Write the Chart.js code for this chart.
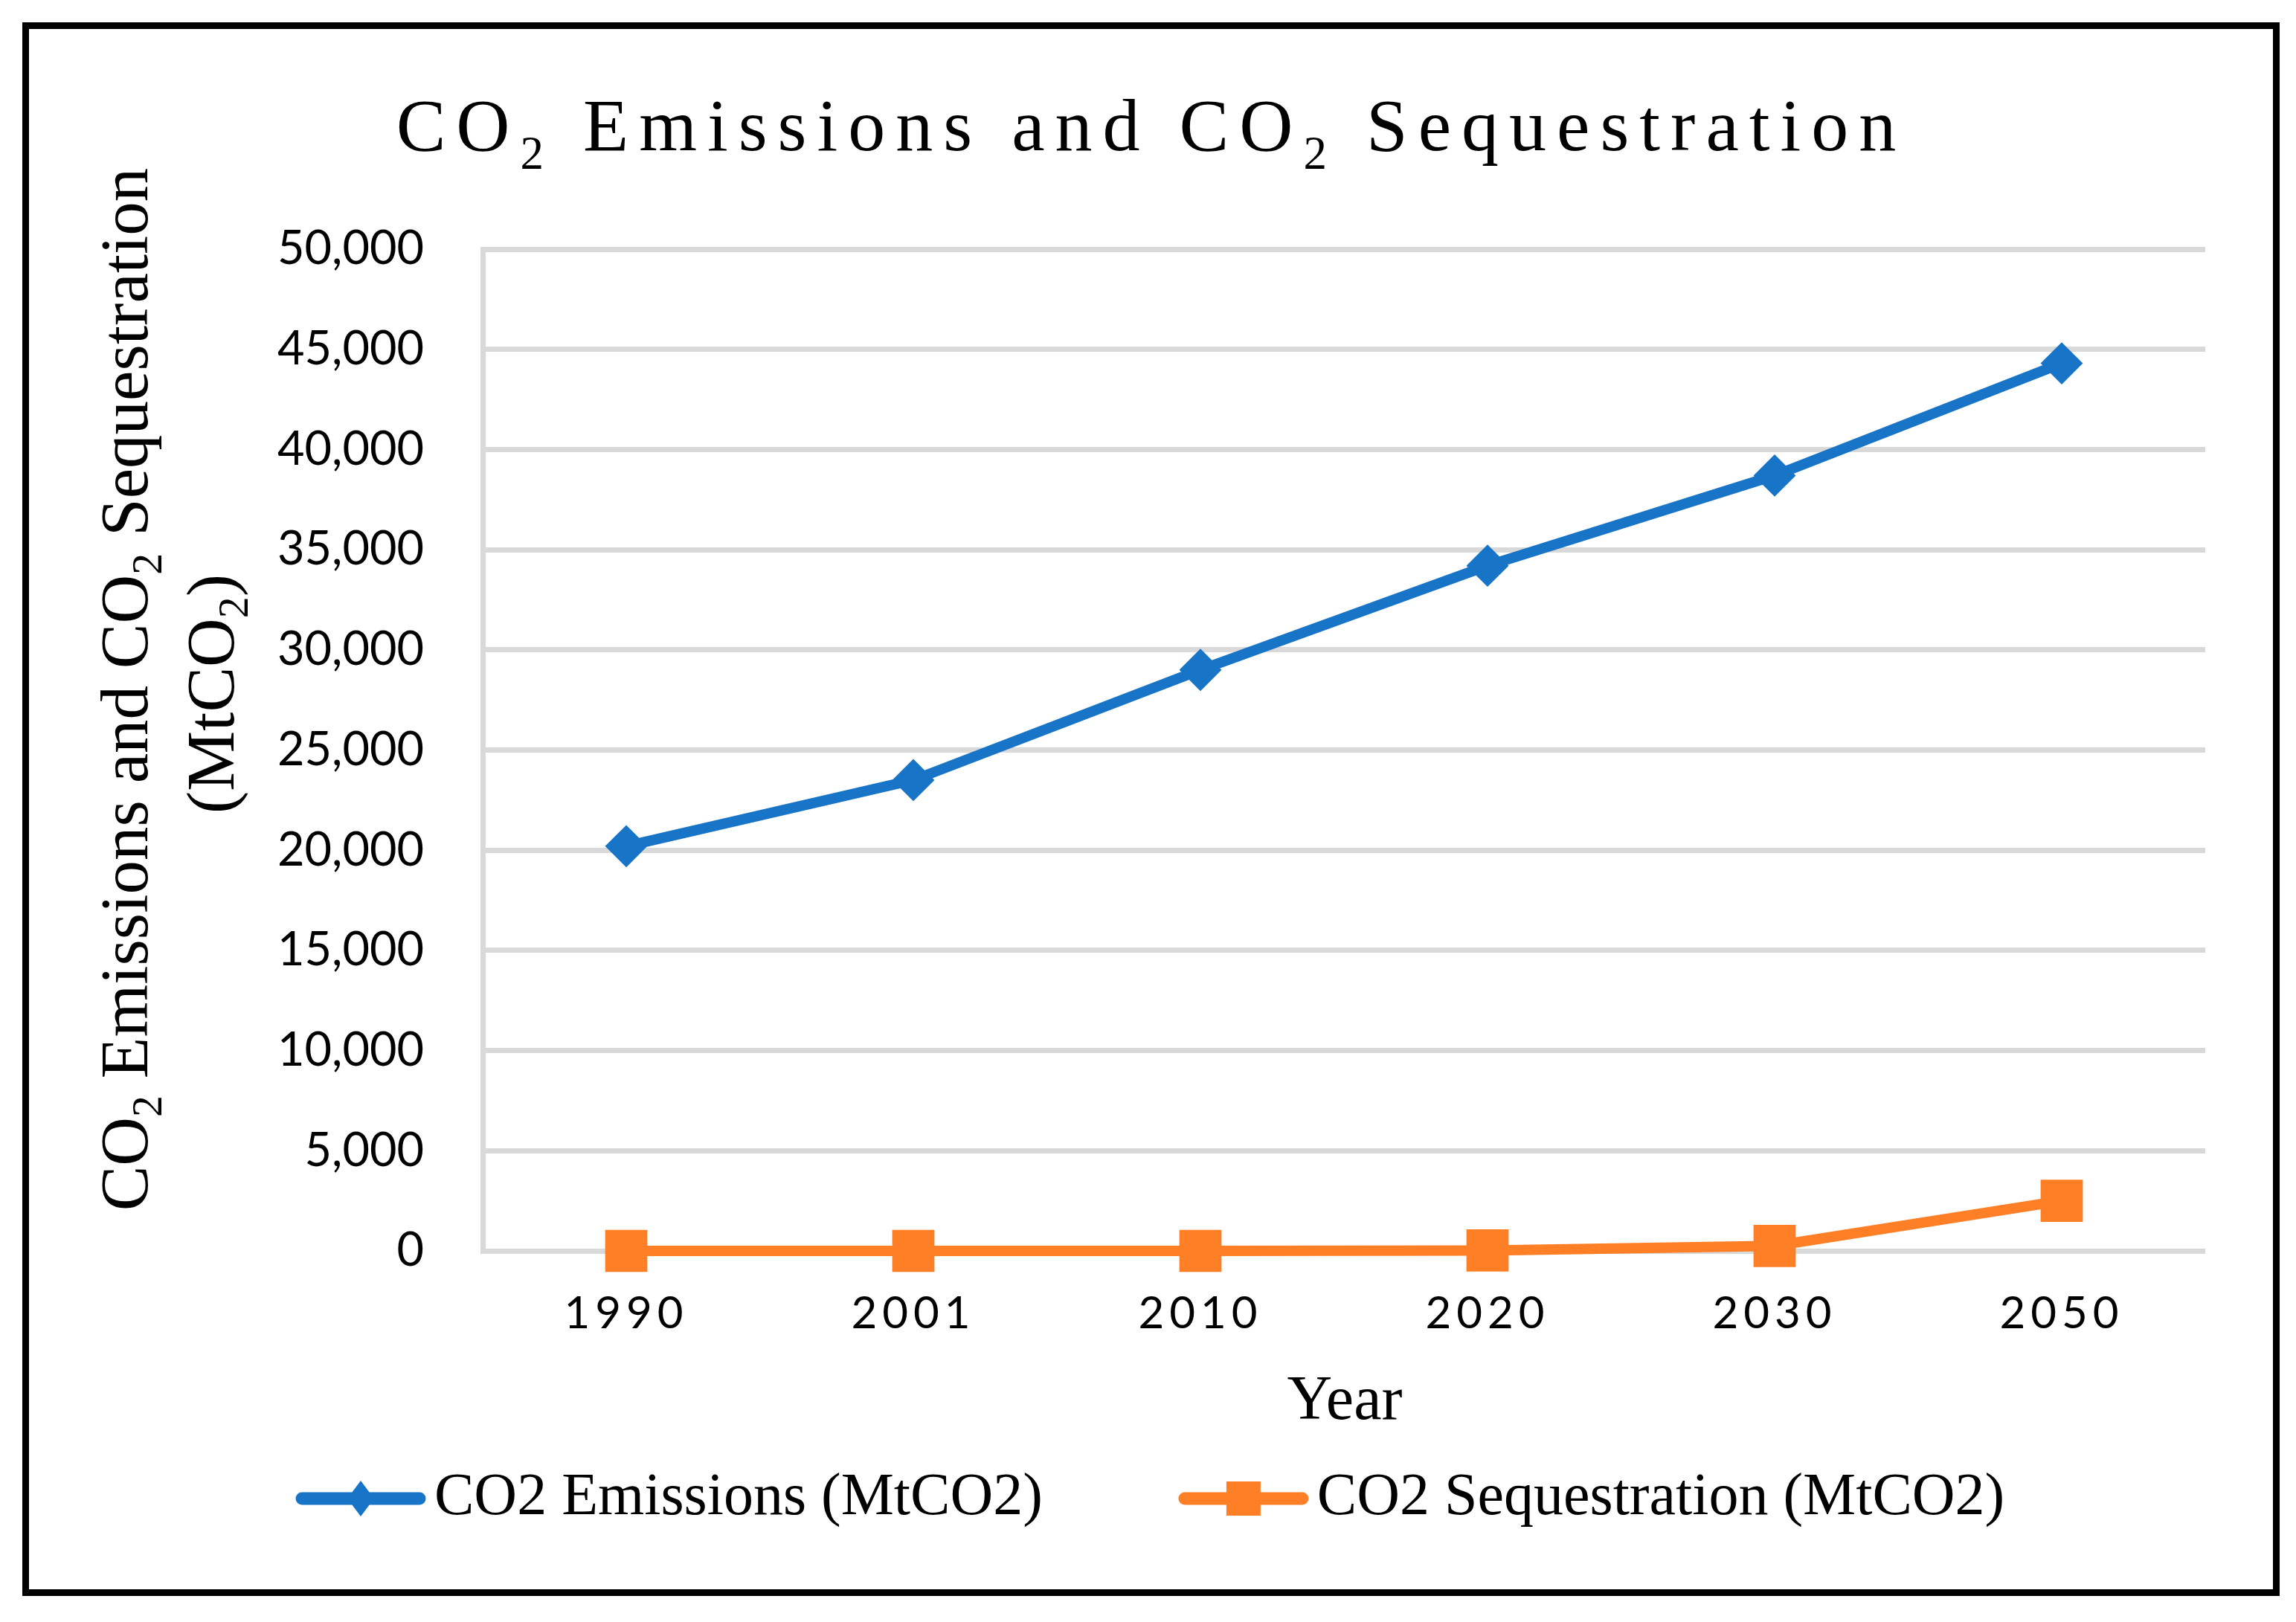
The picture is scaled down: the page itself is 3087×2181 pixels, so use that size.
<!DOCTYPE html>
<html>
<head>
<meta charset="utf-8">
<script src="https://cdn.jsdelivr.net/npm/chart.js@4.4.1/dist/chart.umd.min.js"></script>
<style>
  html, body { margin: 0; background: #fff; }
  #wrap { position: relative; width: 3087px; height: 2181px; }
</style>
</head>
<body>
<div id="wrap"><canvas id="chart"></canvas></div>
<script>
const years = ["1990", "2001", "2010", "2020", "2030", "2050"]
const emissions = [20200, 23500, 29000, 34200, 38700, 44300]
const sequestration = [0, 0, 0, 20, 250, 2500]
const yTicks = [0, 5000, 10000, 15000, 20000, 25000, 30000, 35000, 40000, 45000, 50000]
const seriesNames = ["CO2 Emissions (MtCO2)", "CO2 Sequestration (MtCO2)"]

const blue = "#1874c6"
const orange = "#ff7f27"
const gridColor = "#d9d9d9"
const serif = "Liberation Serif"

// legend box is wide; the line sample sits at its right end, next to the text
const legendBoxW = 309
const legendMark = (color, shape) => {
  const c = document.createElement("canvas")
  c.width = legendBoxW + 58
  c.height = 52
  const g = c.getContext("2d")
  const end = c.width - 9
  const start = c.width - 167
  const mid = (start + end) / 2
  g.strokeStyle = color
  g.fillStyle = color
  g.lineWidth = 17
  g.lineCap = "round"
  g.beginPath()
  g.moveTo(start, 26)
  g.lineTo(end, 26)
  g.stroke()
  g.beginPath()
  if (shape === "diamond") {
    g.moveTo(mid, 2)
    g.lineTo(mid + 18, 26)
    g.lineTo(mid, 50)
    g.lineTo(mid - 18, 26)
    g.closePath()
  } else {
    g.rect(mid - 23, 3, 46, 46)
  }
  g.fill()
  return c
}
const legendMarks = [legendMark(blue, "diamond"), legendMark(orange, "square")]

// text with real subscripts, centred on x
const rich = (ctx, runs, x, y, size, subSize, drop, spacing) => {
  ctx.save()
  ctx.fillStyle = "#000"
  ctx.textAlign = "left"
  ctx.textBaseline = "alphabetic"
  ctx.letterSpacing = spacing + "px"
  const fonts = runs.map(r => `${r[1] ? subSize : size}px "${serif}"`)
  const widths = runs.map((r, i) => {
    ctx.font = fonts[i]
    return ctx.measureText(r[0]).width
  })
  let cx = x - widths.reduce((a, b) => a + b, 0) / 2
  runs.forEach((r, i) => {
    ctx.font = fonts[i]
    ctx.fillText(r[0], cx, r[1] ? y + drop : y)
    cx += widths[i]
  })
  ctx.restore()
}

const titleRuns = [["CO", 0], ["2", 1], [" Emissions and CO", 0], ["2", 1], [" Sequestration", 0]]
const yTitleRuns = [["CO", 0], ["2", 1], [" Emissions and CO", 0], ["2", 1], [" Sequestration", 0]]
const yUnitRuns = [["(MtCO", 0], ["2", 1], [")", 0]]

const textsPlugin = {
  id: "texts",
  beforeDraw(chart) {
    const ctx = chart.ctx
    ctx.save()
    ctx.strokeStyle = "#000"
    ctx.lineWidth = 9
    ctx.strokeRect(34.5, 34.5, 3026, 2107)
    ctx.restore()

    const xs = chart.scales.x
    if (!xs._spaced) {
      const orig = xs.drawLabels
      xs.drawLabels = function (area) {
        this.ctx.save()
        this.ctx.letterSpacing = "7px"
        orig.call(this, area)
        this.ctx.restore()
      }
      xs._spaced = true
    }
  },
  afterDraw(chart) {
    const ctx = chart.ctx
    rich(ctx, titleRuns, 1548, 202, 100, 63, 25, 14)

    ctx.save()
    ctx.translate(198, 927)
    ctx.rotate(-Math.PI / 2)
    rich(ctx, yTitleRuns, 0, 0, 91, 58, 19, 0)
    ctx.restore()

    ctx.save()
    ctx.translate(314, 933)
    ctx.rotate(-Math.PI / 2)
    rich(ctx, yUnitRuns, 0, 0, 91, 58, 19, 0)
    ctx.restore()

    rich(ctx, [["Year", 0]], 1808, 1908, 84, 84, 0, 0)
  },
}

const data = {
  labels: years,
  datasets: [
    {
      label: seriesNames[0],
      data: emissions,
      borderColor: blue,
      backgroundColor: blue,
      borderWidth: 14,
      pointStyle: "rectRot",
      pointRadius: 27,
      pointBorderWidth: 2,
      pointBackgroundColor: blue,
      pointBorderColor: blue,
      tension: 0,
      clip: false,
    },
    {
      label: seriesNames[1],
      data: sequestration,
      borderColor: orange,
      backgroundColor: orange,
      borderWidth: 14,
      pointStyle: "rect",
      pointRadius: 38,
      pointBorderWidth: 3,
      pointBackgroundColor: orange,
      pointBorderColor: orange,
      tension: 0,
      clip: false,
    },
  ],
}

const config = {
  type: "line",
  data: data,
  plugins: [textsPlugin],
  options: {
    responsive: true,
    maintainAspectRatio: false,
    animation: false,
    devicePixelRatio: 1,
    layout: {
      padding: { top: 335, left: 215, right: 122, bottom: 116 },
    },
    plugins: {
      title: { display: false },
      tooltip: { enabled: false },
      legend: {
        position: "bottom",
        align: "start",
        labels: {
          color: "#000",
          font: { family: serif, size: 80 },
          usePointStyle: true,
          pointStyleWidth: legendBoxW,
          padding: 20,
          generateLabels: chart =>
            Chart.defaults.plugins.legend.labels
              .generateLabels(chart)
              .map((item, i) => ({ ...item, pointStyle: legendMarks[i] })),
        },
      },
    },
    scales: {
      x: {
        offset: true,
        afterFit: s => {
          s.height = 273
        },
        grid: { display: false, drawTicks: false },
        border: { display: false },
        ticks: {
          padding: 49,
          color: "#000",
          font: { family: "Lato", size: 60 },
        },
      },
      y: {
        min: 0,
        max: 50000,
        afterBuildTicks: s => {
          s.ticks = yTicks.map(v => ({ value: v }))
        },
        afterFit: s => {
          s.width = 434
        },
        grid: { color: gridColor, lineWidth: 7, drawTicks: false },
        border: { display: true, color: gridColor, width: 7 },
        ticks: {
          padding: 79,
          color: "#000",
          font: { family: "Lato", size: 63 },
          callback: v => v.toLocaleString("en-US"),
        },
      },
    },
  },
}

new Chart(document.getElementById("chart"), config)
</script>
</body>
</html>
